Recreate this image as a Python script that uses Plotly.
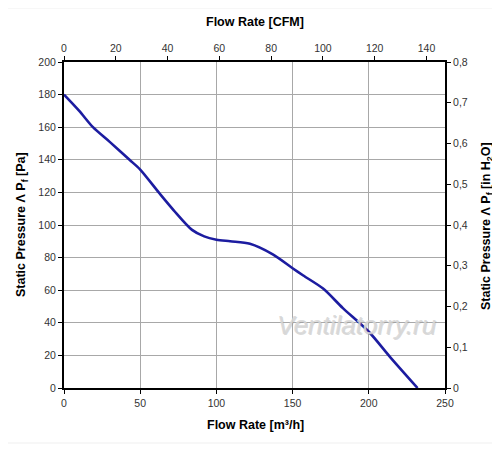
import plotly.graph_objects as go

# Fan curve (flow in m3/h, static pressure in Pa)
flow_m3h = [0, 10, 19, 30, 43, 50, 63, 72, 84, 92, 100, 109, 122, 137, 150, 157, 170, 183, 200, 214, 232]
pressure_pa = [180, 170, 160, 151, 140, 134, 119, 109, 97, 93, 91, 90, 88.5, 82, 73.5, 69, 61, 49, 34.5, 19, 0]

cfm_ticks = [0, 20, 40, 60, 80, 100, 120, 140]
inh2o_ticks = [0, 0.1, 0.2, 0.3, 0.4, 0.5, 0.6, 0.7, 0.8]
inh2o_labels = ["0", "0,1", "0,2", "0,3", "0,4", "0,5", "0,6", "0,7", "0,8"]

M3H_PER_CFM = 1.699

font = "Liberation Sans, Arial, sans-serif"
axis_common = dict(
    showline=True, linecolor="black", linewidth=2,
    ticks="outside", ticklen=4, tickcolor="black", tickwidth=1,
    tickfont=dict(family=font, size=10.5, color="#333"),
    zeroline=False, automargin=False,
)

fig = go.Figure()

fig.add_trace(go.Scatter(
    x=flow_m3h, y=pressure_pa,
    mode="lines",
    line=dict(color="#1c1ca0", width=2.6, shape="spline", smoothing=0.8),
    showlegend=False,
    hoverinfo="skip",
))

# dummy trace so the secondary axes get drawn
fig.add_trace(go.Scatter(
    x=[0], y=[0], xaxis="x2", yaxis="y2",
    mode="markers", marker=dict(opacity=0), showlegend=False, hoverinfo="skip",
))

# the page body has an 8px margin, so the figure is laid out 8px smaller
OFF = 8
W, H = 500 - OFF, 454 - OFF
L, R, T, B = 64 - OFF, 55, 62 - OFF, 66
plot_w = W - L - R
plot_h = H - T - B


def px(x, y):
    # screen pixel position -> paper coordinates
    return (x - OFF - L) / plot_w, (H - B - (y - OFF)) / plot_h


title_font = dict(family=font, size=12.5, color="black")
annotations = []
for text, (x, y), angle in [
    ("<b>Flow Rate [m³/h]</b>", (255, 425), 0),
    ("<b>Flow Rate [CFM]</b>", (255, 22), 0),
    ("<b>Static Pressure Λ P<sub>f</sub> [Pa]</b>", (22, 225), -90),
    ("<b>Static Pressure Λ P<sub>f</sub> [in H<sub>2</sub>O]</b>", (487, 226), -90),
]:
    ax, ay = px(x, y)
    annotations.append(dict(text=text, x=ax, y=ay, xref="paper", yref="paper",
                            xanchor="center", yanchor="middle",
                            showarrow=False, textangle=angle, font=title_font))

# watermark with a soft emboss
for dx, dy, col in [(1, 1, "rgba(150,150,150,0.35)"), (0, 0, "rgba(215,215,215,0.9)")]:
    ax, ay = px(356 + dx, 325 + dy)
    annotations.append(dict(text="<i>Ventilatorry.ru</i>", x=ax, y=ay, xref="paper", yref="paper",
                            xanchor="center", yanchor="middle",
                            showarrow=False, font=dict(family=font, size=26, color=col)))

# faint frame around the image
x0, y0 = px(3, 443)
x1, y1 = px(499, 8)
frame = dict(type="rect", xref="paper", yref="paper", x0=x0, y0=y0, x1=x1, y1=y1,
             line=dict(color="#efefef", width=1), layer="below")

fig.update_layout(
    width=W, height=H,
    margin=dict(l=L, r=R, t=T, b=B, autoexpand=False),
    paper_bgcolor="white", plot_bgcolor="white",
    xaxis=dict(range=[0, 250], dtick=50, showgrid=True, gridcolor="#a8a8a8", gridwidth=1,
               **axis_common),
    yaxis=dict(range=[0, 200], dtick=20, showgrid=True, gridcolor="#a8a8a8", gridwidth=1,
               **axis_common),
    xaxis2=dict(range=[0, 250 / M3H_PER_CFM], overlaying="x", side="top",
                tickvals=cfm_ticks, showgrid=False, **axis_common),
    yaxis2=dict(range=[0, 0.8], overlaying="y", side="right",
                tickvals=inh2o_ticks, ticktext=inh2o_labels, showgrid=False, **axis_common),
    annotations=annotations,
    shapes=[frame],
)

fig.write_html("out.html")
